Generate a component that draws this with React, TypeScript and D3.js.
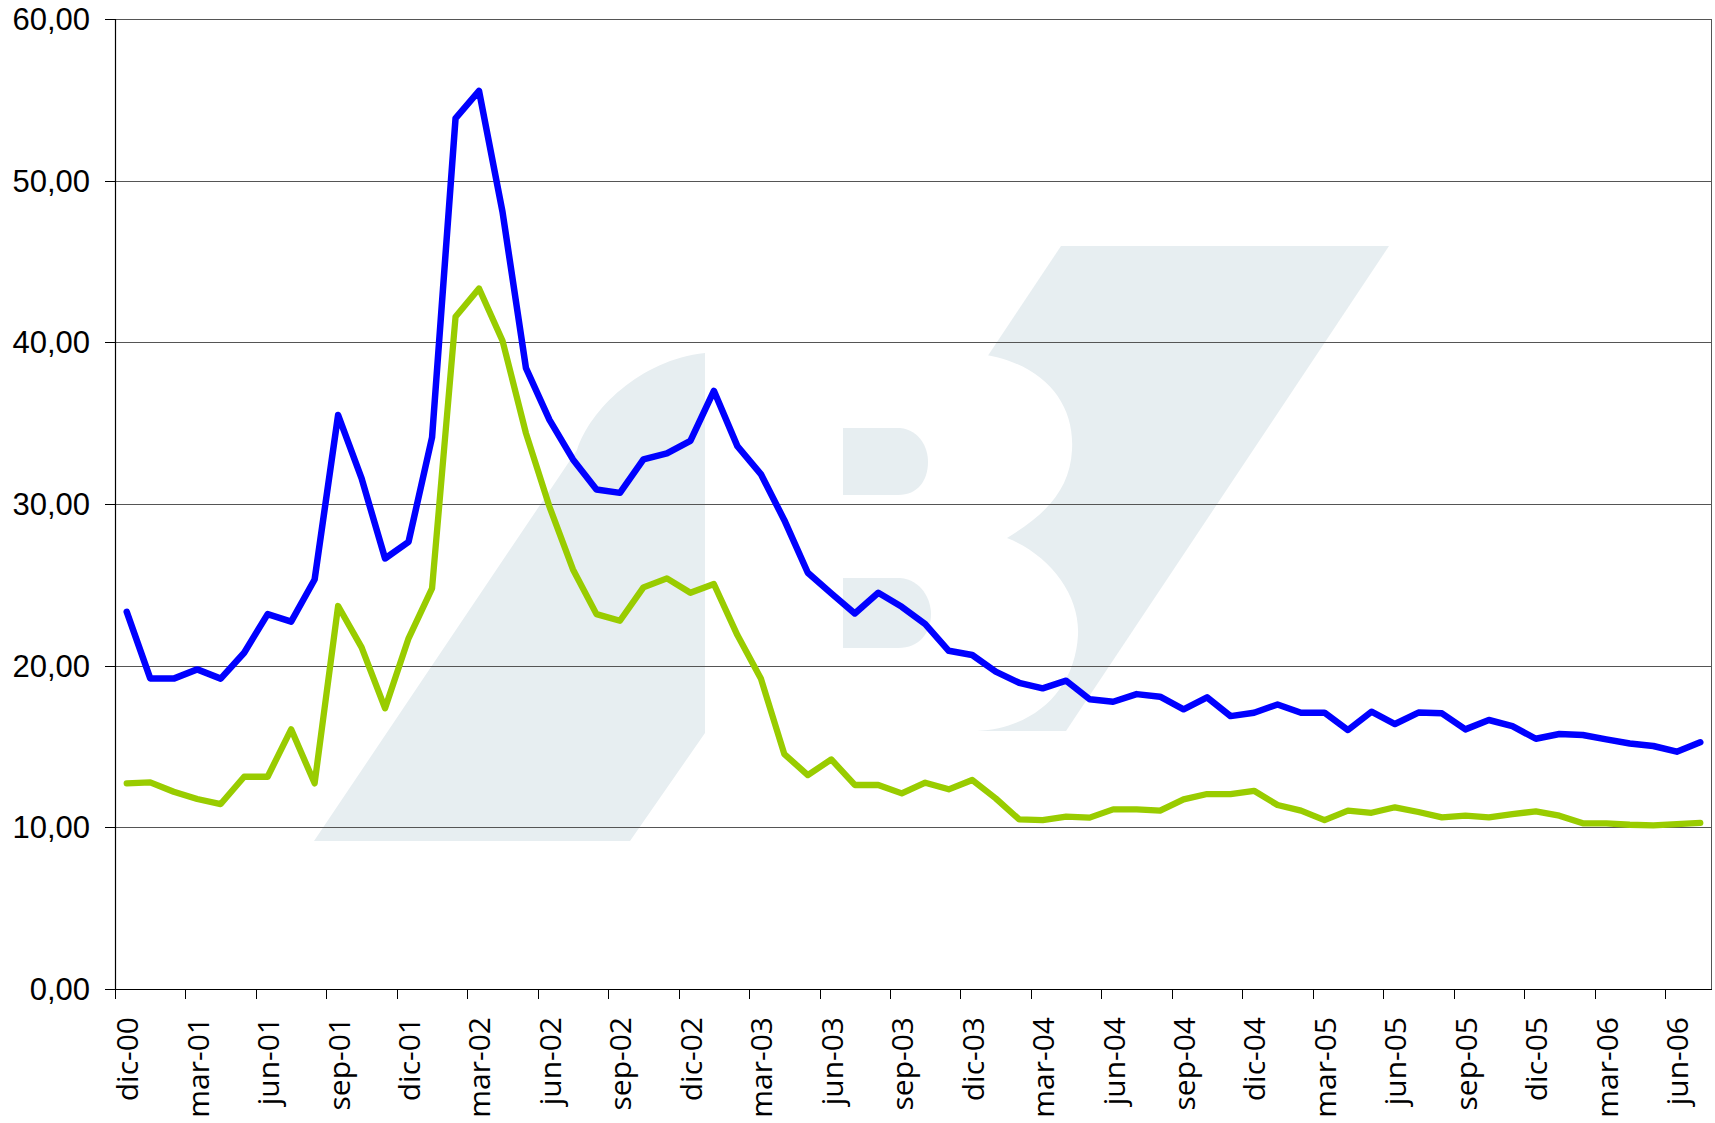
import React from 'react';
import * as d3 from 'd3';

// serie mensual dic-00 .. jul-06
const MESES = ['ene', 'feb', 'mar', 'abr', 'may', 'jun', 'jul', 'ago', 'sep', 'oct', 'nov', 'dic'];
const categorias: string[] = [];
for (let i = 0; i < 68; i++) {
  const m = (11 + i) % 12;
  const yr = Math.floor((11 + i) / 12);
  categorias.push(`${MESES[m]}-${String(yr).padStart(2, '0')}`);
}

const serieAzul = [
  23.33, 19.21, 19.2, 19.77, 19.2, 20.8, 23.19, 22.72, 25.33, 35.5,
  31.58, 26.63, 27.66, 34.12, 53.85, 55.55, 48.07, 38.4, 35.2, 32.76,
  30.9, 30.69, 32.76, 33.13, 33.91, 37.0, 33.58, 31.85, 29.0, 25.75,
  24.47, 23.23, 24.51, 23.64, 22.57, 20.92, 20.66, 19.63, 18.94, 18.6,
  19.07, 17.92, 17.77, 18.24, 18.08, 17.3, 18.04, 16.88, 17.09, 17.6,
  17.09, 17.09, 16.02, 17.15, 16.39, 17.1, 17.05, 16.06, 16.64, 16.26,
  15.48, 15.77, 15.71, 15.44, 15.19, 15.03, 14.68, 15.26,
];

const serieVerde = [
  12.72, 12.78, 12.2, 11.75, 11.44, 13.13, 13.13, 16.06, 12.72, 23.69,
  21.13, 17.36, 21.69, 24.78, 41.58, 43.33, 40.1, 34.37, 29.83, 25.95,
  23.19, 22.78, 24.84, 25.4, 24.51, 25.05, 21.89, 19.21, 14.53, 13.23,
  14.2, 12.62, 12.62, 12.1, 12.76, 12.35, 12.93, 11.79, 10.49, 10.45,
  10.66, 10.6, 11.11, 11.11, 11.03, 11.73, 12.06, 12.06, 12.26, 11.38,
  11.03, 10.45, 11.03, 10.9, 11.24, 10.95, 10.62, 10.72, 10.62, 10.82,
  10.99, 10.72, 10.25, 10.25, 10.16, 10.12, 10.2, 10.28,
];

const yTicks = [0, 10, 20, 30, 40, 50, 60];

const W = 1715;
const H = 1123;
const margin = { top: 19, right: 3, bottom: 134, left: 115 };
const FONT = "'Open Sans', 'Liberation Sans', Arial, sans-serif";
const FONT_Y = "'Liberation Sans', Arial, sans-serif";
const WM = '#e7eef1';

export default function App() {
  const x = d3
    .scaleBand<string>()
    .domain(categorias)
    .range([margin.left, W - margin.right]);
  const y = d3
    .scaleLinear()
    .domain([0, 60])
    .range([H - margin.bottom, margin.top]);

  const cx = (i: number) => (x(categorias[i]) as number) + x.bandwidth() / 2;
  const line = d3
    .line<number>()
    .x((_, i) => cx(i))
    .y((d) => y(d));

  const fmt = (v: number) => v.toFixed(2).replace('.', ',');
  const x0 = margin.left;
  const x1 = W - margin.right;
  const yBase = y(0);
  const tickCats = categorias.filter((_, i) => i % 3 === 0);

  return (
    <svg
      width={W}
      height={H}
      style={{ position: 'absolute', left: 0, top: 0, background: '#fff' }}
      fontFamily={FONT}
    >
      {/* marca de agua */}
      <g fill={WM}>
        <path d="M314,841 L577,450 C590,410 640,360 705,353 L705,733 L630,841 Z" />
        <path d="M1061,246 L1389,246 L1066,731 L738,731 Z" />
        <path
          fill="#fff"
          d="M706,353 L973,353 C1040,360 1075,400 1072,450 C1070,490 1045,515 1007,538 C1050,555 1080,595 1078,635 C1075,690 1035,728 977,731 L706,731 Z"
        />
        <path d="M843,428 L900,428 C920,430 928,448 928,462 C928,480 918,495 898,495 L843,495 Z" />
        <path d="M843,578 L900,578 C922,580 931,600 931,614 C931,632 920,648 898,648 L843,648 Z" />
      </g>

      {/* rejilla */}
      {yTicks.map((t) => (
        <g key={t}>
          {t > 0 && (
            <line x1={x0} x2={x1} y1={Math.round(y(t)) + 0.5} y2={Math.round(y(t)) + 0.5} stroke="#555" strokeWidth={1} />
          )}
          <line x1={x0 - 10} x2={x0} y1={Math.round(y(t)) + 0.5} y2={Math.round(y(t)) + 0.5} stroke="#000" strokeWidth={1} />
          <text x={90} y={y(t)} dy="0.36em" textAnchor="end" fontSize={31} fontFamily={FONT_Y} fill="#000">
            {fmt(t)}
          </text>
        </g>
      ))}
      <line x1={x1 - 0.5} x2={x1 - 0.5} y1={margin.top} y2={yBase} stroke="#555" strokeWidth={1} />

      {/* ejes */}
      <line x1={x0 + 0.5} x2={x0 + 0.5} y1={margin.top} y2={yBase} stroke="#000" strokeWidth={1.2} />
      <line x1={x0} x2={x1} y1={Math.round(yBase) + 0.5} y2={Math.round(yBase) + 0.5} stroke="#000" strokeWidth={1.2} />
      {tickCats.map((c) => {
        const xt = Math.round(x(c) as number) + 0.5;
        const xc = (x(c) as number) + x.bandwidth() / 2;
        return (
          <g key={c}>
            <line x1={xt} x2={xt} y1={yBase} y2={yBase + 10} stroke="#000" strokeWidth={1} />
            <text
              transform={`translate(${xc},${yBase + 28}) rotate(-90)`}
              dy="0.38em"
              textAnchor="end"
              fontSize={30}
              fill="#000"
            >
              {c}
            </text>
          </g>
        );
      })}

      {/* series */}
      <path d={line(serieVerde) || ''} fill="none" stroke="#99cc00" strokeWidth={6.3} strokeLinejoin="round" strokeLinecap="round" />
      <path d={line(serieAzul) || ''} fill="none" stroke="#0000ff" strokeWidth={6.5} strokeLinejoin="round" strokeLinecap="round" />
    </svg>
  );
}
